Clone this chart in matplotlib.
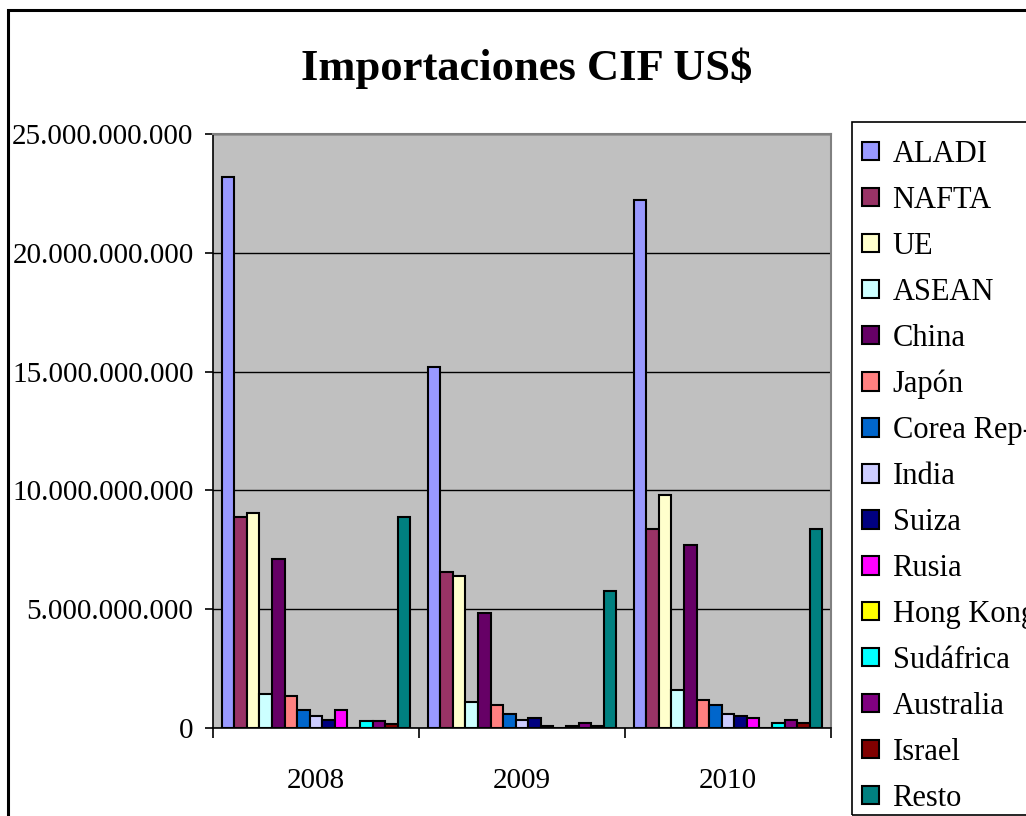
import numpy as np
import matplotlib.pyplot as plt
from matplotlib.patches import Rectangle
from matplotlib.ticker import FuncFormatter

plt.rcParams['font.family'] = ['Liberation Serif', 'DejaVu Serif']

years = ["2008", "2009", "2010"]

origins = ["ALADI", "NAFTA", "UE", "ASEAN", "China", "Japón", "Corea Rep-",
           "India", "Suiza", "Rusia", "Hong Kong", "Sudáfrica", "Australia",
           "Israel", "Resto"]

# imports CIF in US$, one list per year, same order as origins
imports_2008 = [23.17e9, 8.87e9, 9.05e9, 1.45e9, 7.11e9, 1.35e9, 0.76e9,
                0.51e9, 0.35e9, 0.76e9, 0.0, 0.28e9, 0.28e9, 0.17e9, 8.87e9]
imports_2009 = [15.21e9, 6.58e9, 6.41e9, 1.09e9, 4.82e9, 0.95e9, 0.60e9,
                0.32e9, 0.43e9, 0.09e9, 0.0, 0.10e9, 0.19e9, 0.10e9, 5.75e9]
imports_2010 = [22.23e9, 8.38e9, 9.82e9, 1.61e9, 7.71e9, 1.16e9, 0.95e9,
                0.60e9, 0.50e9, 0.41e9, 0.0, 0.19e9, 0.35e9, 0.19e9, 8.38e9]

colors = ["#9999FF", "#993366", "#FFFFCC", "#CCFFFF", "#660066", "#FF8080",
          "#0066CC", "#CCCCFF", "#000080", "#FF00FF", "#FFFF00", "#00FFFF",
          "#800080", "#800000", "#008080"]

values = np.array([imports_2008, imports_2009, imports_2010]).T

fig = plt.figure(figsize=(10.26, 8.16), dpi=100)
W, H = 1026, 816

# outer chart frame, runs off the right and bottom edges
fig.patches.append(Rectangle((8 / W, -0.1), 1.2, 1 - 10 / H + 0.1,
                             transform=fig.transFigure, fill=False,
                             edgecolor="black", linewidth=2.2, zorder=0))
# legend box, also cut by the figure edge
fig.patches.append(Rectangle((852 / W, 1 - 815 / H), 0.5, (815 - 122) / H,
                             transform=fig.transFigure, fill=False,
                             edgecolor="black", linewidth=1.2, zorder=1))

ax = fig.add_axes([213 / W, 1 - 728 / H, (831 - 213) / W, (728 - 134) / H])
ax.set_facecolor("#C0C0C0")

n = len(origins)
group = 0.915
w = group / n
x = np.arange(len(years))
for i, (name, col) in enumerate(zip(origins, colors)):
    pos = x - group / 2 + w * (i + 0.5)
    ax.bar(pos, values[i], width=w, color=col, edgecolor="black",
           linewidth=1.5, label=name, zorder=3)

ax.set_xlim(-0.5, 2.5)
ax.set_ylim(0, 25e9)
ax.set_yticks(np.arange(0, 25e9 + 1, 5e9))
ax.yaxis.set_major_formatter(
    FuncFormatter(lambda v, _: f"{int(v):,}".replace(",", ".")))
ax.grid(axis="y", color="black", linewidth=1.0, zorder=1)

ax.set_xticks(x)
ax.set_xticklabels(years)
ax.set_xticks([-0.5, 0.5, 1.5, 2.5], minor=True)
ax.tick_params(axis="x", which="major", length=0, pad=29, labelsize=21)
ax.tick_params(axis="x", which="minor", length=7, width=1.2, direction="out")
ax.tick_params(axis="y", length=6, width=1.2, direction="out", pad=8,
               labelsize=21)

for side in ("left", "bottom"):
    ax.spines[side].set_color("black")
    ax.spines[side].set_linewidth(1.2)
for side in ("top", "right"):
    ax.spines[side].set_color("#808080")
    ax.spines[side].set_linewidth(1.5)

fig.text(0.513, 1 - 68 / H, "Importaciones CIF US$", ha="center",
         va="center", fontsize=32, fontweight="bold")

leg = fig.legend(loc="upper left", bbox_to_anchor=(862 / W, 1 - 140 / H),
                 fontsize=22, frameon=False,
                 labelspacing=0.555, handlelength=0.55, handleheight=0.55,
                 handletextpad=0.45, borderpad=0, borderaxespad=0)

fig.savefig("out.png", dpi=100)
